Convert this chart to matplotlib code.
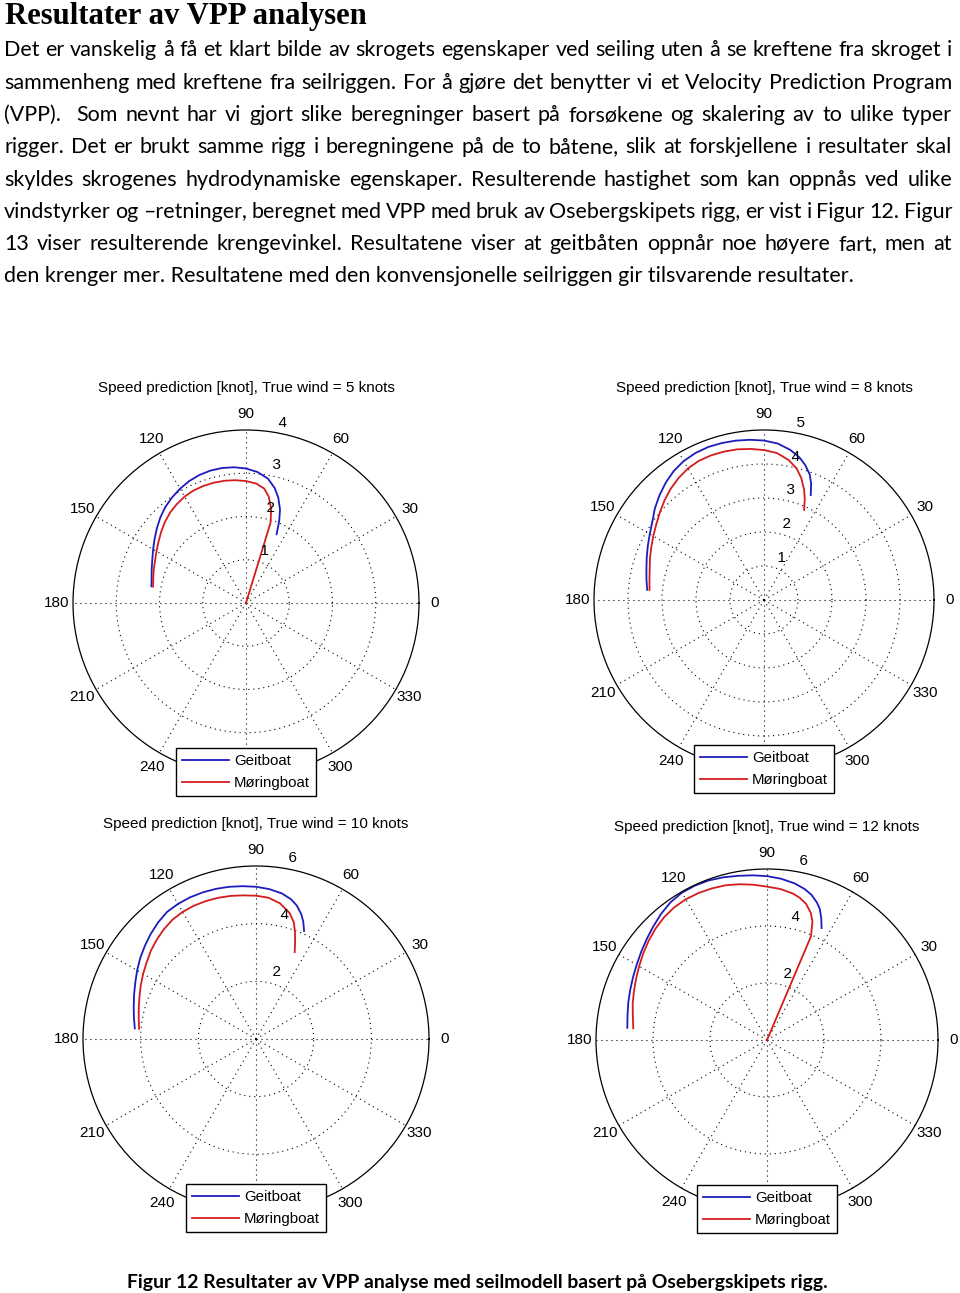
import numpy as np
import matplotlib
matplotlib.use('Agg')
import matplotlib.pyplot as plt
from matplotlib.font_manager import FontProperties

# ---------------- data ----------------
heading = "Resultater av VPP analysen"
body_lines = [
    "Det er vanskelig å få et klart bilde av skrogets egenskaper ved seiling uten å se kreftene fra skroget i",
    "sammenheng med kreftene fra seilriggen. For å gjøre det benytter vi et Velocity Prediction Program",
    "(VPP).  Som nevnt har vi gjort slike beregninger basert på forsøkene og skalering av to ulike typer",
    "rigger. Det er brukt samme rigg i beregningene på de to båtene, slik at forskjellene i resultater skal",
    "skyldes skrogenes hydrodynamiske egenskaper. Resulterende hastighet som kan oppnås ved ulike",
    "vindstyrker og –retninger, beregnet med VPP med bruk av Osebergskipets rigg, er vist i Figur 12. Figur",
    "13 viser resulterende krengevinkel. Resultatene viser at geitbåten oppnår noe høyere fart, men at",
    "den krenger mer. Resultatene med den konvensjonelle seilriggen gir tilsvarende resultater.",
]
caption = "Figur 12 Resultater av VPP analyse med seilmodell basert på Osebergskipets rigg."

series_names = ["Geitboat", "Møringboat"]
true_winds = [5, 8, 10, 12]
angle_labels = [str(a) for a in range(0, 360, 30)]

twa_geit_5 = [66, 68, 70, 73, 76, 80, 85, 90, 95, 100, 105, 110, 115, 120, 125, 130, 135, 140, 145, 150, 155, 160, 165, 170]
v_geit_5 = [1.74, 2.05, 2.30, 2.55, 2.74, 2.92, 3.04, 3.11, 3.15, 3.17, 3.17, 3.15, 3.11, 3.05, 2.98, 2.90, 2.80, 2.69, 2.58, 2.48, 2.39, 2.32, 2.26, 2.22]
twa_mor_5 = [66, 73, 75, 78, 81, 85, 90, 95, 100, 105, 110, 115, 120, 125, 130, 135, 140, 145, 150, 155, 160, 165, 170]
v_mor_5 = [0.0, 1.94, 2.25, 2.52, 2.68, 2.77, 2.82, 2.85, 2.87, 2.88, 2.88, 2.87, 2.84, 2.79, 2.73, 2.65, 2.56, 2.47, 2.39, 2.32, 2.27, 2.22, 2.18]

twa_geit_8 = [66, 68, 70, 73, 76, 80, 85, 90, 95, 100, 105, 110, 115, 120, 125, 130, 135, 140, 145, 150, 155, 160, 165, 170, 175]
v_geit_8 = [3.38, 3.70, 3.93, 4.15, 4.32, 4.48, 4.62, 4.69, 4.73, 4.76, 4.78, 4.79, 4.77, 4.72, 4.63, 4.50, 4.35, 4.19, 4.01, 3.88, 3.77, 3.67, 3.58, 3.51, 3.45]
twa_mor_8 = [66, 68, 70, 73, 76, 80, 85, 90, 95, 100, 105, 110, 115, 120, 125, 130, 135, 140, 145, 150, 155, 160, 165, 170, 175]
v_mor_8 = [2.90, 3.20, 3.45, 3.75, 3.98, 4.18, 4.34, 4.41, 4.46, 4.50, 4.52, 4.53, 4.52, 4.47, 4.38, 4.27, 4.14, 4.00, 3.87, 3.76, 3.66, 3.57, 3.48, 3.42, 3.38]

twa_geit_10 = [66, 68, 70, 73, 76, 80, 85, 90, 95, 100, 105, 110, 115, 120, 125, 130, 135, 140, 145, 150, 155, 160, 165, 170, 175]
v_geit_10 = [4.10, 4.38, 4.60, 4.84, 5.00, 5.13, 5.22, 5.28, 5.32, 5.36, 5.39, 5.41, 5.42, 5.41, 5.38, 5.28, 5.16, 5.03, 4.90, 4.76, 4.62, 4.50, 4.39, 4.30, 4.22]
twa_mor_10 = [66, 68, 70, 72, 75, 80, 85, 90, 95, 100, 105, 110, 115, 120, 125, 130, 135, 140, 145, 150, 155, 160, 165, 170, 175]
v_mor_10 = [3.30, 3.62, 3.95, 4.25, 4.52, 4.78, 4.92, 4.97, 5.00, 5.04, 5.07, 5.09, 5.10, 5.09, 5.05, 4.97, 4.87, 4.76, 4.63, 4.52, 4.41, 4.30, 4.21, 4.13, 4.07]

twa_geit_12 = [64, 66, 68, 70, 73, 76, 80, 85, 90, 95, 100, 105, 110, 115, 120, 125, 130, 135, 140, 145, 150, 155, 160, 165, 170, 175]
v_geit_12 = [4.37, 4.68, 4.95, 5.13, 5.33, 5.46, 5.58, 5.68, 5.75, 5.80, 5.85, 5.91, 5.96, 5.98, 5.97, 5.90, 5.78, 5.64, 5.51, 5.39, 5.28, 5.19, 5.11, 5.04, 4.97, 4.92]
twa_mor_12 = [63, 67, 69, 71, 74, 77, 80, 85, 90, 95, 100, 105, 110, 115, 120, 125, 130, 135, 140, 145, 150, 155, 160, 165, 170, 175]
v_mor_12 = [0.0, 3.95, 4.45, 4.72, 4.97, 5.12, 5.22, 5.32, 5.38, 5.47, 5.55, 5.62, 5.66, 5.69, 5.70, 5.68, 5.62, 5.53, 5.42, 5.30, 5.18, 5.07, 4.97, 4.88, 4.78, 4.71]

r_max = [4, 5, 6, 6]
r_step = [1, 1, 2, 2]

# ---------------- layout ----------------
W, H = 960, 1293
fig = plt.figure(figsize=(W / 100, H / 100), dpi=100)
fig.patch.set_facecolor('white')
renderer = fig.canvas.get_renderer()

BLUE = '#1c1cbc'
RED = '#d41c1c'
PLOT_FONT = 'Liberation Sans'
PFS = 11


def text_w(s, fp):
    w, h, d = renderer.get_text_width_height_descent(s, fp, ismath=False)
    return w


def fit_size(s, family, weight, target):
    fp = FontProperties(family=family, weight=weight, size=10)
    return 10.0 * target / text_w(s, fp)


# heading
hs = fit_size(heading, 'Liberation Serif', 'bold', 363)
fig.text(5 / W, 1 - 24 / H, heading, fontsize=hs, family='Liberation Serif',
         weight='bold', va='baseline', ha='left')

# body text (justified)
BODY_FONT = 'Lato'
bs = fit_size(body_lines[-1], BODY_FONT, 'normal', 849)
fpb = FontProperties(family=BODY_FONT, size=bs)
x0, x1 = 4.0, 952.0
for i, line in enumerate(body_lines):
    base = 56.5 + 32.25 * i
    if i == len(body_lines) - 1:
        fig.text(x0 / W, 1 - base / H, line, fontproperties=fpb, va='baseline', ha='left')
        continue
    words = line.split(' ')
    widths = [text_w(w_, fpb) if w_ else 0.0 for w_ in words]
    gap = (x1 - x0 - sum(widths)) / (len(words) - 1)
    x = x0
    for w_, wd in zip(words, widths):
        if w_:
            fig.text(x / W, 1 - base / H, w_, fontproperties=fpb, va='baseline', ha='left')
        x += wd + gap

# caption
cs = fit_size(caption, BODY_FONT, 'bold', 702)
fig.text(477 / W, 1 - 1288 / H, caption, fontsize=cs, family=BODY_FONT, weight='bold',
         va='baseline', ha='center')

# polar plots
centers = [(246, 603, 173), (764, 600, 170), (256, 1039, 173), (767, 1040, 171)]
geit = [(twa_geit_5, v_geit_5), (twa_geit_8, v_geit_8), (twa_geit_10, v_geit_10), (twa_geit_12, v_geit_12)]
mor = [(twa_mor_5, v_mor_5), (twa_mor_8, v_mor_8), (twa_mor_10, v_mor_10), (twa_mor_12, v_mor_12)]

for k in range(4):
    cx, cy, R = centers[k]
    ax = fig.add_axes([(cx - R) / W, 1 - (cy + R) / H, 2 * R / W, 2 * R / H], projection='polar')
    ax.set_facecolor('white')
    tg, vg = geit[k]
    tm, vm = mor[k]
    ax.plot(np.deg2rad(tg), vg, color=BLUE, lw=1.3, label=series_names[0])
    ax.plot(np.deg2rad(tm), vm, color=RED, lw=1.3, label=series_names[1])
    rm, st = r_max[k], r_step[k]
    ax.set_rlim(0, rm)
    ax.set_rticks(np.arange(st, rm, st))
    ax.set_yticklabels([])
    ax.set_thetagrids(np.arange(0, 360, 30), labels=angle_labels, family=PLOT_FONT, fontsize=PFS)
    ax.tick_params(axis='x', pad=4.5, length=0)
    ax.tick_params(axis='y', length=0)
    ax.grid(True, color='k', linestyle=(0, (1, 3.5)), lw=0.8)
    ax.spines['polar'].set_linewidth(0.9)
    ax.spines['polar'].set_color('k')
    for r in np.arange(st, rm + 0.01, st):
        ax.text(np.deg2rad(82), r + st / 20, '  ' + str(int(r)), va='bottom', ha='left',
                family=PLOT_FONT, fontsize=PFS, clip_on=False)
    ax.text(0.5, 1 + 38 / (2 * R), f"Speed prediction [knot], True wind = {true_winds[k]} knots",
            transform=ax.transAxes, ha='center', va='baseline', family=PLOT_FONT, fontsize=PFS)
    leg = ax.legend(loc='center', bbox_to_anchor=(cx / W, 1 - (cy + 169) / H),
                    bbox_transform=fig.transFigure, frameon=True, fancybox=False,
                    edgecolor='k', framealpha=1, prop=FontProperties(family=PLOT_FONT, size=10.8),
                    handlelength=3.1, handletextpad=0.35, borderpad=0.4, labelspacing=0.55,
                    borderaxespad=0)
    leg.get_frame().set_linewidth(1.0)
    leg.set_zorder(10)

fig.savefig('out.png', dpi=100, facecolor='white')
